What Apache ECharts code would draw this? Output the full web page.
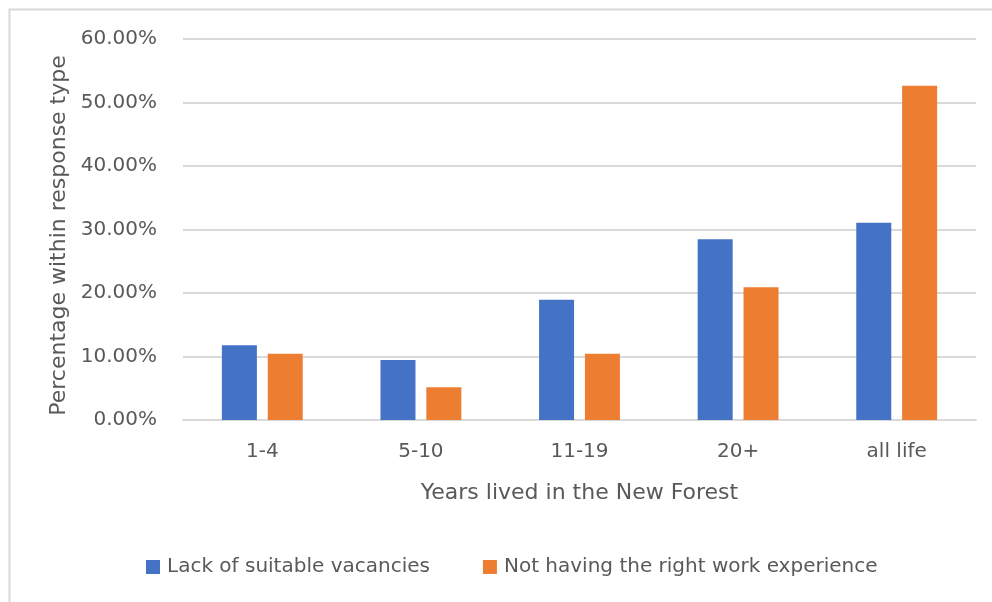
<!DOCTYPE html>
<html>
<head>
<meta charset="utf-8">
<title>Years lived in the New Forest</title>
<script src="https://cdn.jsdelivr.net/npm/echarts@6/dist/echarts.min.js"></script>
<style>
  html, body { margin: 0; padding: 0; background: #ffffff; }
  #chart { width: 992px; height: 602px; }
</style>
</head>
<body>
<div id="chart"></div>
<script>
// Years lived in the area, one group of bars per band
const categories = ['1-4', '5-10', '11-19', '20+', 'all life'];

// Share within each response type (%)
const lackOfVacancies = [11.76, 9.45, 18.95, 28.45, 31.07];
const noWorkExperience = [10.44, 5.14, 10.44, 20.90, 52.65];

const seriesNames = ['Lack of suitable vacancies', 'Not having the right work experience'];

const yTicks = { min: 0, max: 60, interval: 10 };

const FONT = 'DejaVu Sans';
const TEXT = '#595959';
const LINE = '#d9d9d9';

const chart = echarts.init(document.getElementById('chart'), null, { renderer: 'canvas' });

chart.setOption({
  animation: false,
  backgroundColor: '#ffffff',
  textStyle: { fontFamily: FONT, color: TEXT },
  graphic: [{
    type: 'rect',
    left: 7, top: 7,
    shape: { width: 1000, height: 700 },
    style: { fill: 'none', stroke: LINE, lineWidth: 2 },
    silent: true
  }],
  grid: { left: 183, right: 16, top: 39, bottom: 182, containLabel: false },
  legend: {
    left: 146, top: 557,
    padding: 0,
    itemWidth: 14, itemHeight: 14, itemGap: 53,
    icon: 'rect',
    textStyle: { fontFamily: FONT, fontSize: 20, color: TEXT, padding: [0, 0, 0, 2] },
    data: seriesNames
  },
  xAxis: {
    type: 'category',
    data: categories,
    name: 'Years lived in the New Forest',
    nameLocation: 'middle',
    nameGap: 62,
    nameTextStyle: { fontFamily: FONT, fontSize: 22, color: TEXT },
    axisLine: { lineStyle: { color: LINE, width: 2 } },
    axisTick: { show: false },
    axisLabel: { fontFamily: FONT, fontSize: 20, color: TEXT, margin: 22 }
  },
  yAxis: {
    type: 'value',
    min: yTicks.min, max: yTicks.max, interval: yTicks.interval,
    name: 'Percentage within response type',
    nameLocation: 'middle',
    nameGap: 106,
    nameTextStyle: { fontFamily: FONT, fontSize: 22, color: TEXT, padding: [0, 12, 0, 0] },
    axisLine: { show: false },
    axisTick: { show: false },
    axisLabel: {
      fontFamily: FONT, fontSize: 20, color: TEXT, margin: 26,
      formatter: v => v.toFixed(2) + '%'
    },
    splitLine: { lineStyle: { color: LINE, width: 2 } }
  },
  series: [
    {
      name: seriesNames[0],
      type: 'bar',
      data: lackOfVacancies,
      itemStyle: { color: '#4472C4' },
      barWidth: 35,
      barGap: '31%'
    },
    {
      name: seriesNames[1],
      type: 'bar',
      data: noWorkExperience,
      itemStyle: { color: '#ED7D31' },
      barWidth: 35,
      barGap: '31%'
    }
  ]
});
</script>
</body>
</html>
